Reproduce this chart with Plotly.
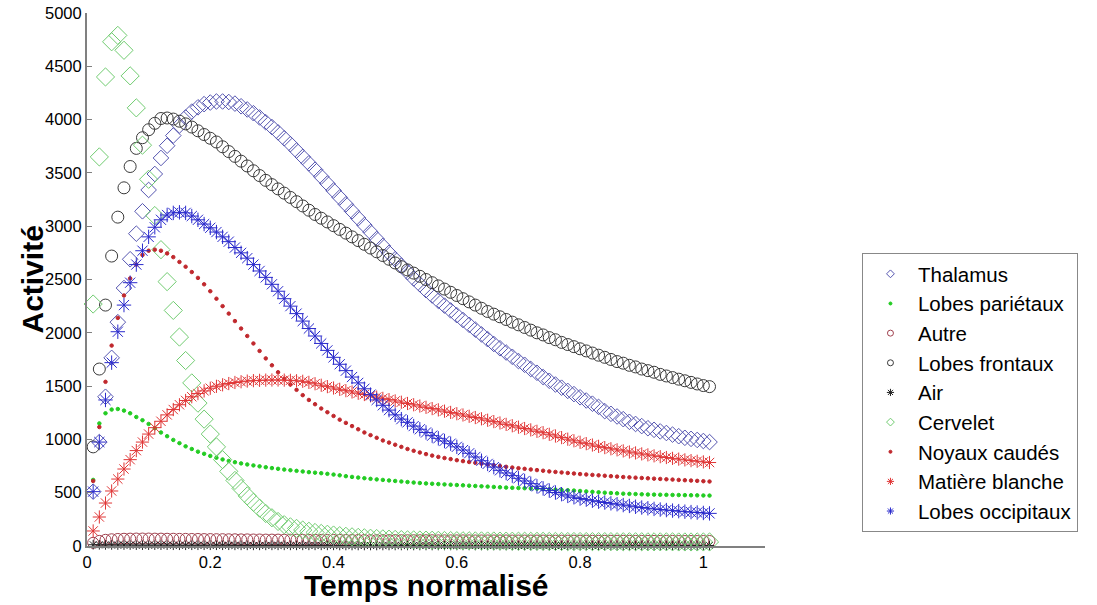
import plotly.graph_objects as go

# normalised time grid (101 samples)
temps = [round(k / 100, 2) for k in range(1, 102)]

thalamus = [510, 975, 1400, 1765, 2100, 2420, 2690, 2930, 3140, 3340,
            3490, 3640, 3755, 3850, 3945, 4020, 4075, 4115, 4145, 4160,
            4170, 4170, 4165, 4150, 4125, 4095, 4060, 4020, 3975, 3930,
            3880, 3825, 3770, 3710, 3650, 3590, 3530, 3465, 3400, 3335,
            3270, 3205, 3140, 3075, 3010, 2945, 2880, 2815, 2750, 2690,
            2630, 2570, 2510, 2455, 2400, 2350, 2300, 2255, 2210, 2165,
            2120, 2075, 2030, 1985, 1940, 1895, 1855, 1815, 1775, 1735,
            1700, 1660, 1625, 1585, 1550, 1515, 1485, 1455, 1425, 1395,
            1365, 1335, 1305, 1265, 1240, 1215, 1190, 1165, 1145, 1125,
            1105, 1090, 1075, 1060, 1045, 1030, 1015, 1005, 995, 985, 975]

lobes_parietaux = [620, 1150, 1245, 1280, 1285, 1270, 1245, 1210, 1180, 1145,
                   1105, 1065, 1030, 995, 965, 935, 910, 885, 865, 845,
                   828, 812, 798, 786, 775, 765, 756, 747, 739, 731,
                   724, 717, 711, 705, 699, 693, 688, 683, 677, 670,
                   663, 655, 648, 642, 636, 630, 625, 620, 615, 610,
                   605, 600, 595, 591, 587, 584, 581, 578, 575, 572,
                   569, 566, 563, 560, 557, 554, 551, 548, 546, 544,
                   542, 540, 538, 535, 532, 529, 526, 523, 520, 516,
                   512, 508, 504, 500, 497, 494, 491, 489, 487, 485,
                   483, 482, 481, 480, 479, 478, 477, 476, 475, 474, 473]

autre = [30, 48, 58, 63, 66, 68, 69, 70, 70, 70,
         69, 69, 68, 68, 67, 67, 66, 66, 65, 65,
         64, 64, 63, 63, 62, 62, 61, 61, 60, 60,
         60, 59, 59, 59, 58, 58, 58, 57, 57, 57,
         57, 56, 56, 56, 56, 55, 55, 55, 55, 55,
         54, 54, 54, 54, 54, 54, 53, 53, 53, 53,
         53, 53, 52, 52, 52, 52, 52, 52, 51, 51,
         51, 51, 51, 51, 50, 50, 50, 50, 50, 50,
         50, 49, 49, 49, 49, 49, 49, 49, 48, 48,
         48, 48, 48, 48, 48, 47, 47, 47, 47, 47, 47]

lobes_frontaux = [930, 1660, 2260, 2720, 3085, 3360, 3560, 3730, 3830, 3905,
                  3965, 4010, 4015, 4005, 3985, 3960, 3930, 3895, 3860, 3825,
                  3790, 3745, 3700, 3655, 3610, 3565, 3520, 3475, 3430, 3390,
                  3350, 3310, 3270, 3230, 3190, 3150, 3110, 3075, 3040, 3005,
                  2970, 2935, 2900, 2865, 2830, 2795, 2760, 2725, 2690, 2655,
                  2620, 2590, 2560, 2530, 2500, 2470, 2440, 2410, 2380, 2350,
                  2320, 2290, 2260, 2230, 2200, 2175, 2150, 2125, 2100, 2075,
                  2050, 2025, 2000, 1980, 1955, 1935, 1910, 1890, 1870, 1850,
                  1830, 1810, 1790, 1770, 1750, 1730, 1715, 1695, 1680, 1660,
                  1645, 1630, 1610, 1595, 1580, 1565, 1550, 1535, 1520, 1505, 1495]

air = [12, 11, 10, 10, 9, 9, 9, 8, 8, 8,
       8, 8, 8, 7, 7, 7, 7, 7, 7, 7,
       7, 7, 7, 6, 6, 6, 6, 6, 6, 6,
       6, 6, 6, 6, 6, 6, 6, 6, 6, 6,
       5, 5, 5, 5, 5, 5, 5, 5, 5, 5,
       5, 5, 5, 5, 5, 5, 5, 5, 5, 5,
       5, 5, 5, 5, 5, 5, 5, 5, 5, 5,
       5, 5, 5, 5, 5, 5, 5, 5, 5, 5,
       5, 5, 5, 5, 5, 5, 5, 5, 5, 5,
       5, 5, 5, 5, 5, 5, 5, 5, 5, 5, 5]

cervelet = [2270, 3650, 4400, 4730, 4790, 4650, 4410, 4110, 3760, 3440,
            3100, 2780, 2480, 2210, 1960, 1740, 1530, 1340, 1190, 1050,
            930, 810, 700, 615, 540, 470, 410, 355, 305, 265,
            230, 200, 180, 165, 150, 138, 127, 118, 110, 103,
            97, 91, 86, 81, 77, 73, 70, 67, 64, 62,
            60, 58, 57, 56, 55, 54, 53, 52, 51, 50,
            49, 49, 48, 48, 47, 47, 46, 46, 45, 45,
            45, 44, 44, 44, 43, 43, 43, 42, 42, 42,
            42, 41, 41, 41, 41, 40, 40, 40, 40, 40,
            39, 39, 39, 39, 39, 38, 38, 38, 38, 38, 38]

noyaux_caudes = [610, 1116, 1540, 1880, 2140, 2350, 2510, 2640, 2730, 2770,
                 2780, 2770, 2745, 2710, 2665, 2620, 2570, 2515, 2455, 2390,
                 2320, 2250, 2180, 2110, 2040, 1970, 1900, 1830, 1760, 1695,
                 1630, 1570, 1515, 1465, 1415, 1370, 1330, 1290, 1255, 1220,
                 1185, 1155, 1125, 1095, 1065, 1040, 1015, 990, 970, 950,
                 930, 910, 893, 877, 862, 848, 836, 825, 815, 805,
                 796, 788, 780, 772, 764, 757, 750, 743, 736, 730,
                 724, 718, 712, 706, 700, 695, 690, 685, 680, 675,
                 671, 667, 663, 659, 655, 651, 647, 644, 641, 638,
                 635, 632, 629, 626, 623, 620, 617, 614, 611, 608, 605]

matiere_blanche = [141, 272, 403, 516, 628, 722, 810, 895, 975, 1050,
                   1110, 1170, 1230, 1280, 1325, 1365, 1400, 1430, 1455, 1480,
                   1498, 1512, 1524, 1534, 1541, 1547, 1551, 1554, 1556, 1557,
                   1557, 1556, 1554, 1550, 1545, 1535, 1522, 1508, 1495, 1482,
                   1470, 1457, 1445, 1433, 1421, 1409, 1397, 1385, 1373, 1361,
                   1349, 1337, 1325, 1313, 1301, 1289, 1277, 1265, 1253, 1241,
                   1229, 1217, 1205, 1193, 1180, 1167, 1154, 1141, 1128, 1115,
                   1102, 1089, 1076, 1063, 1048, 1032, 1017, 1002, 987, 973,
                   960, 947, 935, 923, 912, 902, 892, 882, 873, 864,
                   855, 846, 838, 830, 822, 815, 808, 801, 795, 789, 783]

lobes_occipitaux = [510, 975, 1370, 1720, 2010, 2260, 2470, 2640, 2770, 2900,
                    2990, 3060, 3105, 3125, 3130, 3125, 3095, 3060, 3020, 2985,
                    2945, 2900, 2855, 2800, 2750, 2700, 2640, 2580, 2520, 2455,
                    2390, 2320, 2250, 2180, 2110, 2040, 1970, 1900, 1835, 1770,
                    1705, 1645, 1585, 1530, 1475, 1420, 1370, 1320, 1275, 1230,
                    1190, 1160, 1125, 1095, 1065, 1035, 1010, 985, 960, 930,
                    900, 870, 835, 800, 770, 740, 710, 685, 660, 635,
                    610, 585, 560, 540, 520, 502, 486, 470, 457, 445,
                    435, 425, 416, 408, 400, 392, 384, 376, 368, 361,
                    354, 348, 342, 337, 332, 327, 322, 318, 314, 310, 306]

x_ticks = [0, 0.2, 0.4, 0.6, 0.8, 1]
y_ticks = [0, 500, 1000, 1500, 2000, 2500, 3000, 3500, 4000, 4500, 5000]

series = [
    ("Thalamus", thalamus, "diamond-open", 12, "#5555b0"),
    ("Lobes pariétaux", lobes_parietaux, "circle", 3.5, "#22cc22"),
    ("Autre", autre, "circle-open", 11, "#a0404e"),
    ("Lobes frontaux", lobes_frontaux, "circle-open", 12, "#3a3a3a"),
    ("Air", air, "asterisk-open", 8, "#222222"),
    ("Cervelet", cervelet, "diamond-open", 14, "#70cc70"),
    ("Noyaux caudés", noyaux_caudes, "circle", 3.5, "#c0282d"),
    ("Matière blanche", matiere_blanche, "asterisk-open", 11, "#e03535"),
    ("Lobes occipitaux", lobes_occipitaux, "asterisk-open", 12, "#2a2acc"),
]

fig = go.Figure()
for name, vals, sym, size, col in series:
    fig.add_trace(go.Scatter(
        x=temps, y=vals, mode="markers", name=name, showlegend=False,
        cliponaxis=False,
        marker=dict(symbol=sym, size=size, color=col, line=dict(width=1, color=col)),
    ))
# legend entries with small symbols
for name, vals, sym, size, col in series:
    fig.add_trace(go.Scatter(
        x=[None], y=[None], mode="markers", name=name, showlegend=True,
        marker=dict(symbol=sym, size=6 if size > 5 else 3, color=col,
                    line=dict(width=1, color=col)),
    ))

font_family = "Liberation Sans, Arial, sans-serif"
fig.update_layout(
    width=1097, height=605,
    margin=dict(l=87, r=332, t=13, b=59, autoexpand=False),
    paper_bgcolor="white", plot_bgcolor="white",
    font=dict(family=font_family, color="black", size=16),
    legend=dict(
        x=1.143, y=0.5497, xanchor="left", yanchor="top",
        bordercolor="#888888", borderwidth=1, bgcolor="white",
        font=dict(size=20.5, family=font_family, color="black"),
        itemwidth=45, tracegroupgap=0,
    ),
    xaxis=dict(
        range=[0, 1.1], tickvals=x_ticks, ticks="inside", ticklen=5,
        tickcolor="#808080", showline=True, linecolor="#808080", linewidth=2,
        showgrid=False, zeroline=False, tickfont=dict(size=16.5), automargin=False,
        ticklabeloverflow="allow",
    ),
    yaxis=dict(
        range=[0, 5000], tickvals=y_ticks, ticks="inside", ticklen=5,
        tickcolor="#808080", showline=True, linecolor="#808080", linewidth=2,
        showgrid=False, zeroline=False, tickfont=dict(size=16.5), automargin=False,
        ticklabeloverflow="allow",
    ),
    annotations=[
        dict(text="<b>Temps normalisé</b>", xref="paper", yref="paper",
             x=0.5, y=0, xanchor="center", yanchor="middle", yshift=-39,
             showarrow=False, font=dict(size=30)),
        dict(text="<b>Activité</b>", xref="paper", yref="paper",
             x=0, y=0.5, xanchor="center", yanchor="middle", xshift=-55,
             textangle=-90, showarrow=False, font=dict(size=30)),
    ],
)

# remove the page's default body margin so the figure sits at the window origin
fig.write_html(
    "out.html",
    config={"displayModeBar": False},
    post_script="document.body.style.margin='0';document.body.style.padding='0';",
)
